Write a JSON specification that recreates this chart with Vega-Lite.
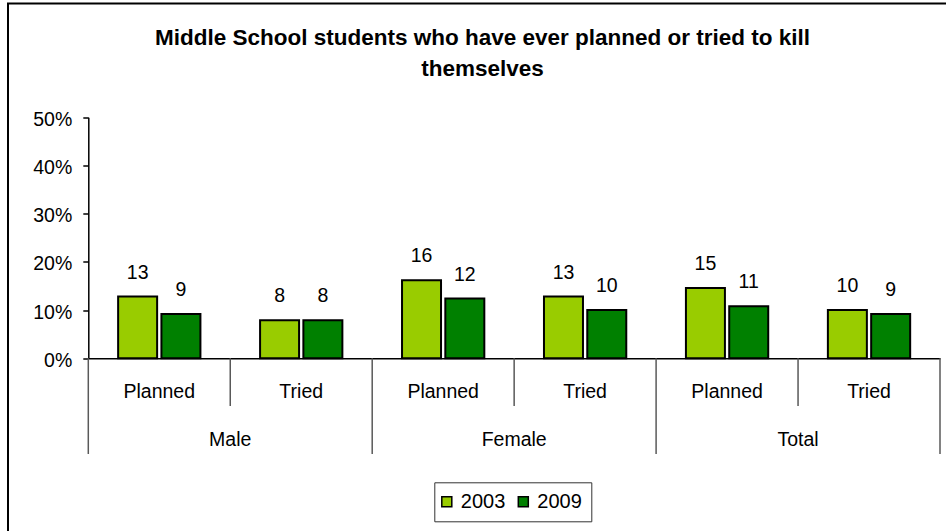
{
  "$schema": "https://vega.github.io/schema/vega-lite/v6.json",
  "autosize": {"type": "none"},
  "width": 940,
  "height": 530,
  "padding": {"left": 8, "top": 3.5, "right": 0, "bottom": 0},
  "background": "white",
  "config": {"font": "Liberation Sans", "view": {"stroke": "black", "strokeWidth": 2, "fill": "white"}},
  "title": {
    "text": ["Middle School students who have ever planned or tried to kill", "themselves"],
    "font": "Liberation Sans",
    "fontSize": 22.5,
    "fontWeight": "bold",
    "color": "black",
    "anchor": "middle",
    "frame": "group",
    "baseline": "alphabetic",
    "offset": -95,
    "dx": 4.5,
    "lineHeight": 31
  },
  "data": {
    "values": [
      {"cat": "Male/Planned", "gender": "Male", "measure": "Planned", "year": "2003", "value": 12.8},
      {"cat": "Male/Planned", "gender": "Male", "measure": "Planned", "year": "2009", "value": 9.2},
      {"cat": "Male/Tried", "gender": "Male", "measure": "Tried", "year": "2003", "value": 7.9},
      {"cat": "Male/Tried", "gender": "Male", "measure": "Tried", "year": "2009", "value": 7.9},
      {"cat": "Female/Planned", "gender": "Female", "measure": "Planned", "year": "2003", "value": 16.2},
      {"cat": "Female/Planned", "gender": "Female", "measure": "Planned", "year": "2009", "value": 12.4},
      {"cat": "Female/Tried", "gender": "Female", "measure": "Tried", "year": "2003", "value": 12.8},
      {"cat": "Female/Tried", "gender": "Female", "measure": "Tried", "year": "2009", "value": 10.0},
      {"cat": "Total/Planned", "gender": "Total", "measure": "Planned", "year": "2003", "value": 14.6},
      {"cat": "Total/Planned", "gender": "Total", "measure": "Planned", "year": "2009", "value": 10.8},
      {"cat": "Total/Tried", "gender": "Total", "measure": "Tried", "year": "2003", "value": 10.0},
      {"cat": "Total/Tried", "gender": "Total", "measure": "Tried", "year": "2009", "value": 9.2}
    ]
  },
  "layer": [
    {
      "mark": {"type": "bar", "stroke": "black", "strokeWidth": 2},
      "encoding": {
        "x": {"field": "cat", "type": "nominal",
          "scale": {"domain": ["Male/Planned", "Male/Tried", "Female/Planned", "Female/Tried", "Total/Planned", "Total/Tried"], "range": [80.3, 932], "paddingInner": 0, "paddingOuter": 0},
          "axis": {"orient": "bottom", "offset": -175.2, "labels": false, "ticks": false, "title": null, "grid": false, "domainColor": "black", "domainWidth": 1.5}},
        "xOffset": {"field": "year", "type": "nominal", "scale": {"paddingInner": 0.0993, "paddingOuter": 0.689}},
        "y": {"field": "value", "type": "quantitative",
          "scale": {"domain": [0, 50], "range": [354.8, 113.8], "nice": false, "zero": false},
          "axis": {"orient": "left", "offset": -80.3, "values": [0, 10, 20, 30, 40, 50], "labelExpr": "datum.value + '%'", "title": null, "grid": false, "domainColor": "black", "domainWidth": 1.5, "tickColor": "black", "tickWidth": 1.5, "tickSize": 5.5, "labelFontSize": 19.5, "labelColor": "black", "labelPadding": 11, "labelOffset": 2, "labelFont": "Liberation Sans"}},
        "color": {"field": "year", "type": "nominal",
          "scale": {"domain": ["2003", "2009"], "range": ["#99CC00", "#008000"]},
          "legend": {"title": null, "orient": "none", "legendX": 426.3, "legendY": 478.8, "direction": "horizontal", "symbolType": "square", "symbolSize": 100, "symbolStrokeColor": "black", "symbolStrokeWidth": 1.5, "symbolOffset": -7, "labelFontSize": 20, "labelColor": "black", "labelFont": "Liberation Sans", "labelOffset": 4, "columnPadding": 9.5, "padding": 9.5, "strokeColor": "#333333", "fillColor": "white"}}
      }
    },
    {
      "mark": {"type": "text", "dy": -18, "baseline": "alphabetic", "fontSize": 19.5, "color": "black"},
      "encoding": {
        "x": {"field": "cat", "type": "nominal",
          "scale": {"domain": ["Male/Planned", "Male/Tried", "Female/Planned", "Female/Tried", "Total/Planned", "Total/Tried"], "range": [80.3, 932], "paddingInner": 0, "paddingOuter": 0},
          "axis": {"orient": "bottom", "offset": -175.2, "labels": false, "ticks": false, "title": null, "grid": false, "domainColor": "black", "domainWidth": 1.5}},
        "xOffset": {"field": "year", "type": "nominal", "scale": {"paddingInner": 0.0993, "paddingOuter": 0.689}},
        "y": {"field": "value", "type": "quantitative",
          "scale": {"domain": [0, 50], "range": [354.8, 113.8], "nice": false, "zero": false},
          "axis": {"orient": "left", "offset": -80.3, "values": [0, 10, 20, 30, 40, 50], "labelExpr": "datum.value + '%'", "title": null, "grid": false, "domainColor": "black", "domainWidth": 1.5, "tickColor": "black", "tickWidth": 1.5, "tickSize": 5.5, "labelFontSize": 19.5, "labelColor": "black", "labelPadding": 11, "labelOffset": 2, "labelFont": "Liberation Sans"}},
        "text": {"field": "value", "type": "quantitative", "format": ".0f"}
      }
    },
    {
      "transform": [{"filter": "datum.year == '2003'"}],
      "mark": {"type": "text", "dy": 39.4, "baseline": "alphabetic", "fontSize": 19.5, "color": "black"},
      "encoding": {
        "x": {"field": "cat", "type": "nominal",
          "scale": {"domain": ["Male/Planned", "Male/Tried", "Female/Planned", "Female/Tried", "Total/Planned", "Total/Tried"], "range": [80.3, 932], "paddingInner": 0, "paddingOuter": 0},
          "axis": {"orient": "bottom", "offset": -175.2, "labels": false, "ticks": false, "title": null, "grid": false, "domainColor": "black", "domainWidth": 1.5}},
        "y": {"datum": 0, "type": "quantitative",
          "scale": {"domain": [0, 50], "range": [354.8, 113.8], "nice": false, "zero": false},
          "axis": {"orient": "left", "offset": -80.3, "values": [0, 10, 20, 30, 40, 50], "labelExpr": "datum.value + '%'", "title": null, "grid": false, "domainColor": "black", "domainWidth": 1.5, "tickColor": "black", "tickWidth": 1.5, "tickSize": 5.5, "labelFontSize": 19.5, "labelColor": "black", "labelPadding": 11, "labelOffset": 2, "labelFont": "Liberation Sans"}},
        "text": {"field": "measure", "type": "nominal"}
      }
    },
    {
      "transform": [{"filter": "datum.year == '2003' && datum.measure == 'Tried'"}],
      "mark": {"type": "text", "dy": 87.2, "baseline": "alphabetic", "fontSize": 19.5, "color": "black"},
      "encoding": {
        "x": {"field": "cat", "type": "nominal", "bandPosition": 0,
          "scale": {"domain": ["Male/Planned", "Male/Tried", "Female/Planned", "Female/Tried", "Total/Planned", "Total/Tried"], "range": [80.3, 932], "paddingInner": 0, "paddingOuter": 0},
          "axis": {"orient": "bottom", "offset": -175.2, "labels": false, "ticks": false, "title": null, "grid": false, "domainColor": "black", "domainWidth": 1.5}},
        "y": {"datum": 0, "type": "quantitative",
          "scale": {"domain": [0, 50], "range": [354.8, 113.8], "nice": false, "zero": false},
          "axis": {"orient": "left", "offset": -80.3, "values": [0, 10, 20, 30, 40, 50], "labelExpr": "datum.value + '%'", "title": null, "grid": false, "domainColor": "black", "domainWidth": 1.5, "tickColor": "black", "tickWidth": 1.5, "tickSize": 5.5, "labelFontSize": 19.5, "labelColor": "black", "labelPadding": 11, "labelOffset": 2, "labelFont": "Liberation Sans"}},
        "text": {"field": "gender", "type": "nominal"}
      }
    },
    {
      "transform": [{"filter": "datum.year == '2003' && datum.measure == 'Tried'"}],
      "mark": {"type": "rule", "color": "#595959", "strokeWidth": 1.5},
      "encoding": {
        "x": {"field": "cat", "type": "nominal", "bandPosition": 0,
          "scale": {"domain": ["Male/Planned", "Male/Tried", "Female/Planned", "Female/Tried", "Total/Planned", "Total/Tried"], "range": [80.3, 932], "paddingInner": 0, "paddingOuter": 0},
          "axis": {"orient": "bottom", "offset": -175.2, "labels": false, "ticks": false, "title": null, "grid": false, "domainColor": "black", "domainWidth": 1.5}},
        "y": {"datum": 0, "type": "quantitative",
          "scale": {"domain": [0, 50], "range": [354.8, 113.8], "nice": false, "zero": false},
          "axis": {"orient": "left", "offset": -80.3, "values": [0, 10, 20, 30, 40, 50], "labelExpr": "datum.value + '%'", "title": null, "grid": false, "domainColor": "black", "domainWidth": 1.5, "tickColor": "black", "tickWidth": 1.5, "tickSize": 5.5, "labelFontSize": 19.5, "labelColor": "black", "labelPadding": 11, "labelOffset": 2, "labelFont": "Liberation Sans"}},
        "y2": {"datum": -9.9}
      }
    },
    {
      "transform": [{"filter": "datum.year == '2003' && datum.measure == 'Planned'"}],
      "mark": {"type": "rule", "color": "#595959", "strokeWidth": 1.5},
      "encoding": {
        "x": {"field": "cat", "type": "nominal", "bandPosition": 0,
          "scale": {"domain": ["Male/Planned", "Male/Tried", "Female/Planned", "Female/Tried", "Total/Planned", "Total/Tried"], "range": [80.3, 932], "paddingInner": 0, "paddingOuter": 0},
          "axis": {"orient": "bottom", "offset": -175.2, "labels": false, "ticks": false, "title": null, "grid": false, "domainColor": "black", "domainWidth": 1.5}},
        "y": {"datum": 0, "type": "quantitative",
          "scale": {"domain": [0, 50], "range": [354.8, 113.8], "nice": false, "zero": false},
          "axis": {"orient": "left", "offset": -80.3, "values": [0, 10, 20, 30, 40, 50], "labelExpr": "datum.value + '%'", "title": null, "grid": false, "domainColor": "black", "domainWidth": 1.5, "tickColor": "black", "tickWidth": 1.5, "tickSize": 5.5, "labelFontSize": 19.5, "labelColor": "black", "labelPadding": 11, "labelOffset": 2, "labelFont": "Liberation Sans"}},
        "y2": {"datum": -19.85}
      }
    },
    {
      "transform": [{"filter": "datum.year == '2003' && datum.cat == 'Total/Tried'"}],
      "mark": {"type": "rule", "color": "#595959", "strokeWidth": 1.5},
      "encoding": {
        "x": {"field": "cat", "type": "nominal", "bandPosition": 1,
          "scale": {"domain": ["Male/Planned", "Male/Tried", "Female/Planned", "Female/Tried", "Total/Planned", "Total/Tried"], "range": [80.3, 932], "paddingInner": 0, "paddingOuter": 0},
          "axis": {"orient": "bottom", "offset": -175.2, "labels": false, "ticks": false, "title": null, "grid": false, "domainColor": "black", "domainWidth": 1.5}},
        "y": {"datum": 0, "type": "quantitative",
          "scale": {"domain": [0, 50], "range": [354.8, 113.8], "nice": false, "zero": false},
          "axis": {"orient": "left", "offset": -80.3, "values": [0, 10, 20, 30, 40, 50], "labelExpr": "datum.value + '%'", "title": null, "grid": false, "domainColor": "black", "domainWidth": 1.5, "tickColor": "black", "tickWidth": 1.5, "tickSize": 5.5, "labelFontSize": 19.5, "labelColor": "black", "labelPadding": 11, "labelOffset": 2, "labelFont": "Liberation Sans"}},
        "y2": {"datum": -19.85}
      }
    }
  ]
}
